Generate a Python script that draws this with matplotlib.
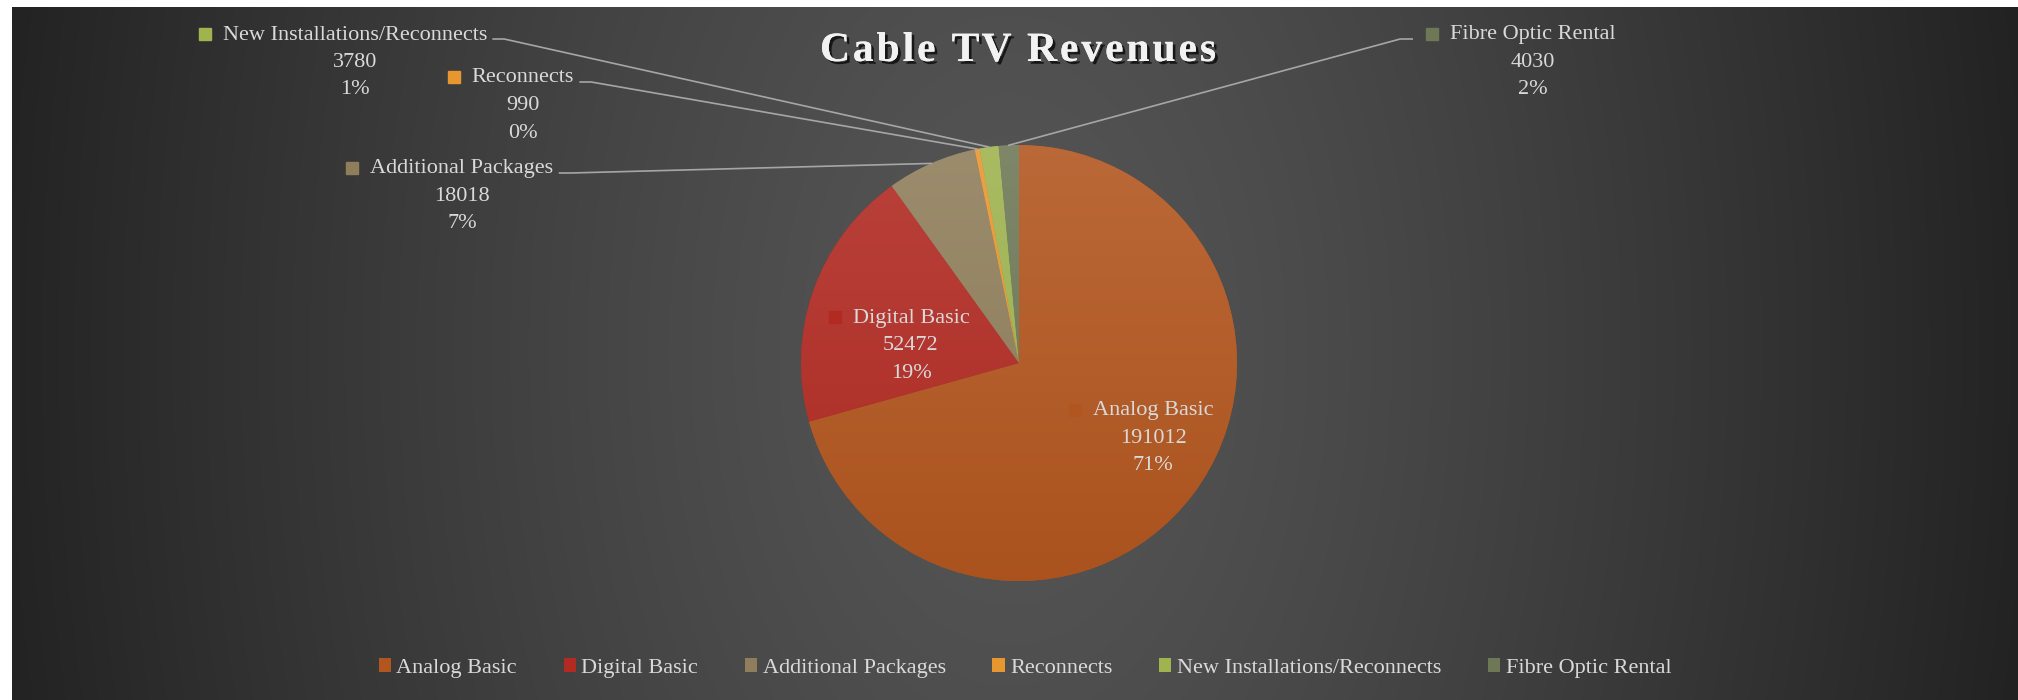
import numpy as np
import matplotlib
matplotlib.use("Agg")
import matplotlib.pyplot as plt
import matplotlib.colors as mcolors
import matplotlib.patheffects as pe
from matplotlib.patches import Rectangle, Patch

plt.rcParams['font.family'] = ['Liberation Serif', 'DejaVu Serif']

# Data
categories = ["Analog Basic", "Digital Basic", "Additional Packages",
              "Reconnects", "New Installations/Reconnects", "Fibre Optic Rental"]
revenues = [191012, 52472, 18018, 990, 3780, 4030]
pct_labels = ["71%", "19%", "7%", "0%", "1%", "2%"]
colors = ["#B2561F", "#B12B23", "#8F7E5B", "#E8962F", "#9FB34F", "#6E7856"]
title = "Cable TV Revenues"

W, H = 2018, 700
TXT = "#D9D9D9"
LINE = "#A6A6A6"

fig = plt.figure(figsize=(W / 100, H / 100), dpi=100, facecolor="white")
ax = fig.add_axes([0, 0, 1, 1])
ax.axis("off")
ax.set_xlim(0, W)
ax.set_ylim(0, H)

# Dark radial background (white margin on top and left)
gx = np.linspace(12, W, 600)
gy = np.linspace(0, 693, 220)
X, Y = np.meshgrid(gx, gy)
d = np.clip(np.sqrt(((X - 1010) / 1050) ** 2 + ((Y - 350) / 1700) ** 2), 0, 1)
g = (86 - 53 * d ** 1.25) / 255
ax.imshow(np.dstack([g, g, g]), extent=(12, W, 0, 693), origin="lower",
          aspect="auto", zorder=0, interpolation="bilinear")

# Pie
cx, cy, r = 1019, H - 363, 218
res = ax.pie(revenues, colors=colors, startangle=90, counterclock=False,
             center=(cx, cy), radius=r, wedgeprops=dict(linewidth=0, zorder=2))
wedges = res[0]

# soft vertical gradient on each slice
ys = np.linspace(0, 1, 256)[:, None, None]
for w, c in zip(wedges, colors):
    base = np.array(mcolors.to_rgb(c))
    top = base + (1 - base) * 0.11
    bot = base * 0.96
    img = bot + (top - bot) * ys
    im = ax.imshow(img, extent=(cx - r, cx + r, cy - r, cy + r), origin="lower",
                   aspect="auto", zorder=3)
    im.set_clip_path(w)

ax.set_xlim(0, W)
ax.set_ylim(0, H)
ax.set_aspect("auto")

renderer = fig.canvas.get_renderer()
FS = 16


def data_label(i, xc, y1):
    yy = H - y1 - 3
    t = ax.text(xc, yy, categories[i], ha="center", va="center",
                fontsize=FS, color=TXT, zorder=6)
    bb = t.get_window_extent(renderer)
    ax.add_patch(Rectangle((bb.x0 - 24, yy - 5), 12, 12, color=colors[i], zorder=6))
    ax.text(xc, yy - 27.5, str(revenues[i]), ha="center", va="center",
            fontsize=FS, color=TXT, zorder=6)
    ax.text(xc, yy - 55, pct_labels[i], ha="center", va="center",
            fontsize=FS, color=TXT, zorder=6)
    return bb.x0, bb.x1, yy


def leader(i, xs, ys_):
    w = wedges[i]
    th = np.deg2rad((w.theta1 + w.theta2) / 2)
    px, py = cx + r * np.cos(th), cy + r * np.sin(th)
    ax.plot(list(xs) + [px], list(ys_) + [py], color=LINE, lw=1.2, zorder=4)


# outside labels with leader lines
for i, xc, y1 in [(4, 355, 32), (3, 523, 75), (2, 462, 166)]:
    x0, x1, yy = data_label(i, xc, y1)
    leader(i, [x1 + 6, x1 + 17], [yy - 4, yy - 4])

x0, x1, yy = data_label(5, 1533, 32)
leader(5, [x0 - 38, x0 - 50], [yy - 4, yy - 4])

# inside labels
data_label(1, 911, 315)
data_label(0, 1153, 408)

# Title, drawn letter by letter to get the wide tracking
tkw = dict(fontsize=30, fontweight="bold", color="#F2F2F2", zorder=7, va="center",
           ha="left", path_effects=[pe.withSimplePatchShadow(offset=(2, -2),
                                    shadow_rgbFace="black", alpha=0.7), pe.Normal()])
probe = ax.text(0, 0, title, **tkw)
full_w = probe.get_window_extent(renderer).width
probe.remove()
target_w = 396
track = (target_w - full_w) / (len(title) - 1)
tx0 = 1018 - target_w / 2
for k, ch in enumerate(title):
    if k:
        p = ax.text(0, 0, title[:k], **tkw)
        off = p.get_window_extent(renderer).width
        if title[k - 1] == " ":
            off += 0
        p.remove()
    else:
        off = 0
    if ch != " ":
        ax.text(tx0 + off + k * track, H - 51, ch, **tkw)

# Legend
handles = [Patch(facecolor=c, edgecolor="none") for c in colors]
ax.legend(handles, categories, loc="center", ncol=6, frameon=False,
          bbox_to_anchor=(1025 / W, 32 / H), bbox_transform=fig.transFigure,
          fontsize=FS, labelcolor=TXT, handlelength=0.55, handleheight=0.6,
          handletextpad=0.25, columnspacing=2.1)

fig.savefig("out.png", dpi=100, facecolor="white")
